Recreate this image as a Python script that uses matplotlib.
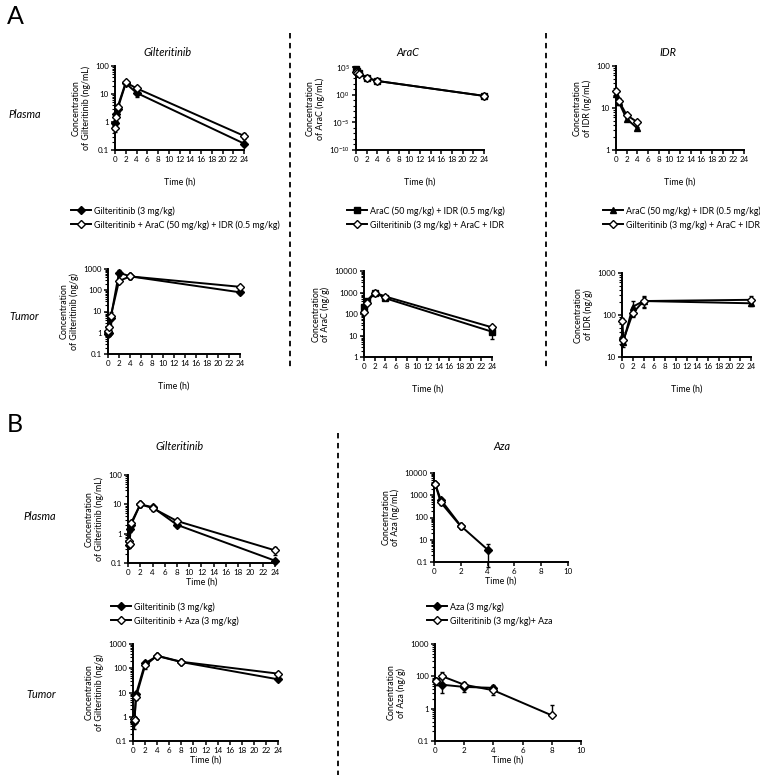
import matplotlib
matplotlib.use("Agg")
import matplotlib.pyplot as plt
from matplotlib.lines import Line2D
from matplotlib.ticker import NullFormatter, FixedLocator, FuncFormatter

plt.rcParams['font.family'] = ['Lato', 'DejaVu Sans']
plt.rcParams['mathtext.default'] = 'regular'

W, H = 760, 775

# ---------------- data ----------------
t_a = [0.083, 0.25, 0.5, 2, 4, 24]
t_b = [0.083, 0.25, 0.5, 2, 4, 8, 24]

# A: gilteritinib plasma
a_gil_pl_mono = [0.9, 2.0, 3.0, 24, 11, 0.17]
a_gil_pl_mono_err = [0.2, 0.5, 0.8, 3, 3, 0.02]
a_gil_pl_combo = [0.63, 1.5, 3.5, 26, 16, 0.32]
a_gil_pl_combo_err = [0.2, 0.4, 1.0, 3, 3, 0.08]

# A: AraC plasma
a_ara_pl_mono = [40000, 20000, 8000, 1200, 300, 0.6]
a_ara_pl_combo = [15000, 10000, 6000, 1000, 300, 0.6]

# A: IDR plasma
t_idr_pl = [0.083, 0.5, 2, 4]
a_idr_pl_mono = [22, 14, 5.5, 3.3]
a_idr_pl_mono_err = [3, 2, 0.6, 0.3]
a_idr_pl_combo = [26, 15, 6.8, 4.6]
a_idr_pl_combo_err = [3, 2, 0.6, 0.4]

# A: gilteritinib tumor
a_gil_tu_mono = [0.9, 1.0, 5.0, 680, 450, 80]
a_gil_tu_mono_err = [0.2, 0.3, 4, 200, 100, 15]
a_gil_tu_combo = [1.2, 1.8, 6.0, 270, 450, 145]
a_gil_tu_combo_err = [0.3, 0.4, 2, 50, 120, 20]

# A: AraC tumor
t_ara_tu = [0.083, 0.5, 2, 4, 24]
a_ara_tu_mono = [220, 400, 1000, 540, 15]
a_ara_tu_mono_err = [80, 100, 100, 60, 8]
a_ara_tu_combo = [130, 320, 1000, 650, 24]
a_ara_tu_combo_err = [30, 60, 100, 60, 3]

# A: IDR tumor
t_idr_tu = [0.083, 0.25, 2, 4, 24]
a_idr_tu_mono = [32, 23, 157, 215, 190]
a_idr_tu_mono_err = [8, 6, 60, 70, 30]
a_idr_tu_combo = [73, 25, 110, 215, 230]
a_idr_tu_combo_err = [10, 5, 20, 60, 50]

# B: gilteritinib plasma
b_gil_pl_mono = [0.4, 1.4, 2.0, 10, 8, 2.0, 0.12]
b_gil_pl_mono_err = [0.08, 0.3, 0.5, 2, 1.5, 0.3, 0.02]
b_gil_pl_combo = [0.55, 0.45, 2.3, 10, 7.5, 2.7, 0.27]
b_gil_pl_combo_err = [0.1, 0.08, 0.5, 2, 1.5, 0.5, 0.08]

# B: Aza plasma (axis units, labels as printed)
t_aza_pl_mono = [0.083, 0.5, 2, 4]
b_aza_pl_mono = [3300, 640, 42, 3.6]
b_aza_pl_mono_err = [500, 100, 8, 3]
t_aza_pl_combo = [0.083, 0.5, 2]
b_aza_pl_combo = [3300, 480, 40]
b_aza_pl_combo_err = [400, 100, 8]
aza_pl_tick_pos = [1, 10, 100, 1000, 10000]
aza_pl_tick_lab = ['0.1', '10', '100', '1000', '10000']

# B: gilteritinib tumor
b_gil_tu_mono = [0.6, 0.75, 8.5, 160, 320, 180, 35]
b_gil_tu_mono_err = [0.3, 0.2, 2, 40, 30, 20, 6]
b_gil_tu_combo = [0.8, 0.75, 6.5, 130, 330, 185, 60]
b_gil_tu_combo_err = [0.3, 0.2, 1.5, 40, 30, 20, 8]

# B: Aza tumor (axis units, labels as printed)
t_aza_tu_mono = [0.083, 0.5, 2, 4]
b_aza_tu_mono = [7.0, 5.5, 4.7, 4.4]
b_aza_tu_mono_err = [1.5, 2.5, 1.5, 1.0]
t_aza_tu_combo = [0.083, 0.5, 2, 4, 8]
b_aza_tu_combo = [7.0, 10, 5.5, 3.7, 0.62]
b_aza_tu_combo_err_lo = [1.5, 4, 1.0, 1.0, 0]
b_aza_tu_combo_err_hi = [1.5, 4, 1.0, 1.0, 0.65]
aza_tu_tick_pos = [0.1, 1, 10, 100]
aza_tu_tick_lab = ['0.1', '1', '100', '1000']

leg_a1 = ['Gilteritinib (3 mg/kg)', 'Gilteritinib + AraC (50 mg/kg) + IDR (0.5 mg/kg)']
leg_a2 = ['AraC (50 mg/kg) + IDR (0.5 mg/kg)', 'Gilteritinib (3 mg/kg) + AraC + IDR']
leg_a3 = ['AraC (50 mg/kg) + IDR (0.5 mg/kg)', 'Gilteritinib (3 mg/kg) + AraC + IDR']
leg_b1 = ['Gilteritinib (3 mg/kg)', 'Gilteritinib + Aza (3 mg/kg)']
leg_b2 = ['Aza (3 mg/kg)', 'Gilteritinib (3 mg/kg)+ Aza']

fig = plt.figure(figsize=(W / 100, H / 100), dpi=100)


def add_ax(l, t, r, b):
    return fig.add_axes([l / W, 1 - b / H, (r - l) / W, (b - t) / H])


def style(ax, xmax, xstep, ylim, ylabel, xlabel_pad=10):
    ax.set_yscale('log')
    ax.set_xlim(0, xmax)
    ax.set_ylim(*ylim)
    ax.set_xticks(range(0, xmax + 1, xstep))
    ax.yaxis.set_major_formatter(FuncFormatter(lambda v, p: '%g' % v))
    ax.yaxis.set_minor_formatter(NullFormatter())
    for s in ['top', 'right']:
        ax.spines[s].set_visible(False)
    for s in ['left', 'bottom']:
        ax.spines[s].set_linewidth(1.4)
    ax.tick_params(which='major', length=3, width=1.1, labelsize=5.8, pad=1.5)
    ax.tick_params(which='minor', length=2, width=0.8)
    ax.set_ylabel(ylabel, fontsize=6.4, linespacing=1.1, labelpad=3)
    ax.set_xlabel('Time (h)', fontsize=6.4, labelpad=xlabel_pad)


def series(ax, t, y, err, marker, fc):
    ax.errorbar(t, y, yerr=err, color='black', marker=marker, ms=4.2,
                mfc=fc, mec='black', mew=1, lw=1.4, elinewidth=1,
                capsize=1.5, capthick=1, clip_on=False, zorder=3)
    return Line2D([], [], color='black', marker=marker, ms=4.2, mfc=fc,
                  mec='black', mew=1, lw=1.4)


def legend(handles, labels, x, y):
    fig.legend(handles, labels, loc='upper left',
               bbox_to_anchor=(x / W, 1 - y / H), frameon=False,
               fontsize=6.4, handlelength=2.2, handletextpad=0.4,
               labelspacing=0.5, borderpad=0, borderaxespad=0)


def pct(v, f=0.25):
    return [x * f for x in v]


# ---------- A plasma ----------
ax = add_ax(115, 66, 244, 150)
style(ax, 24, 2, (0.1, 100), 'Concentration\nof Gilteritinib (ng/mL)')
h1 = series(ax, t_a, a_gil_pl_mono, a_gil_pl_mono_err, 'D', 'black')
h2 = series(ax, t_a, a_gil_pl_combo, a_gil_pl_combo_err, 'D', 'white')
legend([h1, h2], leg_a1, 71, 206)

ax = add_ax(356, 67, 484, 150)
style(ax, 24, 2, (1e-10, 1e5), 'Concentration\nof AraC (ng/mL)')
ax.yaxis.set_major_locator(FixedLocator([1e-10, 1e-5, 1, 1e5]))
ax.yaxis.set_minor_locator(FixedLocator([10.0 ** k for k in range(-10, 6)]))
ax.set_yticklabels([r'$10^{-10}$', r'$10^{-5}$', r'$10^{0}$', r'$10^{5}$'])
h1 = series(ax, t_a, a_ara_pl_mono, pct(a_ara_pl_mono), 's', 'black')
h2 = series(ax, t_a, a_ara_pl_combo, pct(a_ara_pl_combo), 'D', 'white')
legend([h1, h2], leg_a2, 347, 206)

ax = add_ax(616, 66, 744, 150)
style(ax, 24, 2, (1, 100), 'Concentration\nof IDR (ng/mL)')
h1 = series(ax, t_idr_pl, a_idr_pl_mono, a_idr_pl_mono_err, '^', 'black')
h2 = series(ax, t_idr_pl, a_idr_pl_combo, a_idr_pl_combo_err, 'D', 'white')
legend([h1, h2], leg_a3, 603, 206)

# ---------- A tumor ----------
ax = add_ax(108, 269, 240, 354)
style(ax, 24, 2, (0.1, 1000), 'Concentration\nof Gilteritinib (ng/g)')
series(ax, t_a, a_gil_tu_mono, a_gil_tu_mono_err, 'D', 'black')
series(ax, t_a, a_gil_tu_combo, a_gil_tu_combo_err, 'D', 'white')

ax = add_ax(364, 271, 492, 357)
style(ax, 24, 2, (1, 10000), 'Concentration\nof AraC (ng/g)')
series(ax, t_ara_tu, a_ara_tu_mono, a_ara_tu_mono_err, 's', 'black')
series(ax, t_ara_tu, a_ara_tu_combo, a_ara_tu_combo_err, 'D', 'white')

ax = add_ax(622, 273, 751, 357)
style(ax, 24, 2, (10, 1000), 'Concentration\nof IDR (ng/g)')
series(ax, t_idr_tu, a_idr_tu_mono, a_idr_tu_mono_err, '^', 'black')
series(ax, t_idr_tu, a_idr_tu_combo, a_idr_tu_combo_err, 'D', 'white')

# ---------- B ----------
ax = add_ax(128, 475, 275, 563)
style(ax, 24, 2, (0.1, 100), 'Concentration\nof Gilteritinib (ng/mL)', xlabel_pad=1)
h1 = series(ax, t_b, b_gil_pl_mono, b_gil_pl_mono_err, 'D', 'black')
h2 = series(ax, t_b, b_gil_pl_combo, b_gil_pl_combo_err, 'D', 'white')
legend([h1, h2], leg_b1, 111, 602)

ax = add_ax(434, 473, 568, 562)
style(ax, 10, 2, (1, 10000), 'Concentration\nof Aza (ng/mL)', xlabel_pad=1)
ax.set_yticks(aza_pl_tick_pos, aza_pl_tick_lab)
h1 = series(ax, t_aza_pl_mono, b_aza_pl_mono, b_aza_pl_mono_err, 'D', 'black')
h2 = series(ax, t_aza_pl_combo, b_aza_pl_combo, b_aza_pl_combo_err, 'D', 'white')
legend([h1, h2], leg_b2, 427, 602)

ax = add_ax(133, 644, 278, 741)
style(ax, 24, 2, (0.1, 1000), 'Concentration\nof Gilteritinib (ng/g)', xlabel_pad=1)
series(ax, t_b, b_gil_tu_mono, b_gil_tu_mono_err, 'D', 'black')
series(ax, t_b, b_gil_tu_combo, b_gil_tu_combo_err, 'D', 'white')

ax = add_ax(435, 644, 581, 741)
style(ax, 10, 2, (0.1, 100), 'Concentration\nof Aza (ng/g)', xlabel_pad=1)
ax.set_yticks(aza_tu_tick_pos, aza_tu_tick_lab)
series(ax, t_aza_tu_mono, b_aza_tu_mono, b_aza_tu_mono_err, 'D', 'black')
series(ax, t_aza_tu_combo, b_aza_tu_combo,
       [b_aza_tu_combo_err_lo, b_aza_tu_combo_err_hi], 'D', 'white')

# ---------- labels ----------
def ftext(x, y, s, **kw):
    fig.text(x / W, 1 - y / H, s, ha='center', va='center', **kw)


ftext(15, 17, 'A', fontsize=18)
ftext(15, 425, 'B', fontsize=18)
for x, y, s in [(168, 52, 'Gilteritinib'), (408, 52, 'AraC'), (668, 52, 'IDR'),
                (180, 447, 'Gilteritinib'), (502, 447, 'Aza')]:
    ftext(x, y, s, fontsize=7.8, style='italic')
for x, y, s in [(25, 114, 'Plasma'), (24, 317, 'Tumor'),
                (40, 516, 'Plasma'), (41, 694, 'Tumor')]:
    ftext(x, y, s, fontsize=7.8, style='italic')

for x, y0, y1 in [(290, 33, 368), (546, 33, 368), (338, 433, 775)]:
    fig.add_artist(Line2D([x / W, x / W], [1 - y0 / H, 1 - y1 / H],
                          transform=fig.transFigure, color='black',
                          lw=1.3, ls=(0, (3, 2.5))))

fig.savefig('out.png', dpi=100)
